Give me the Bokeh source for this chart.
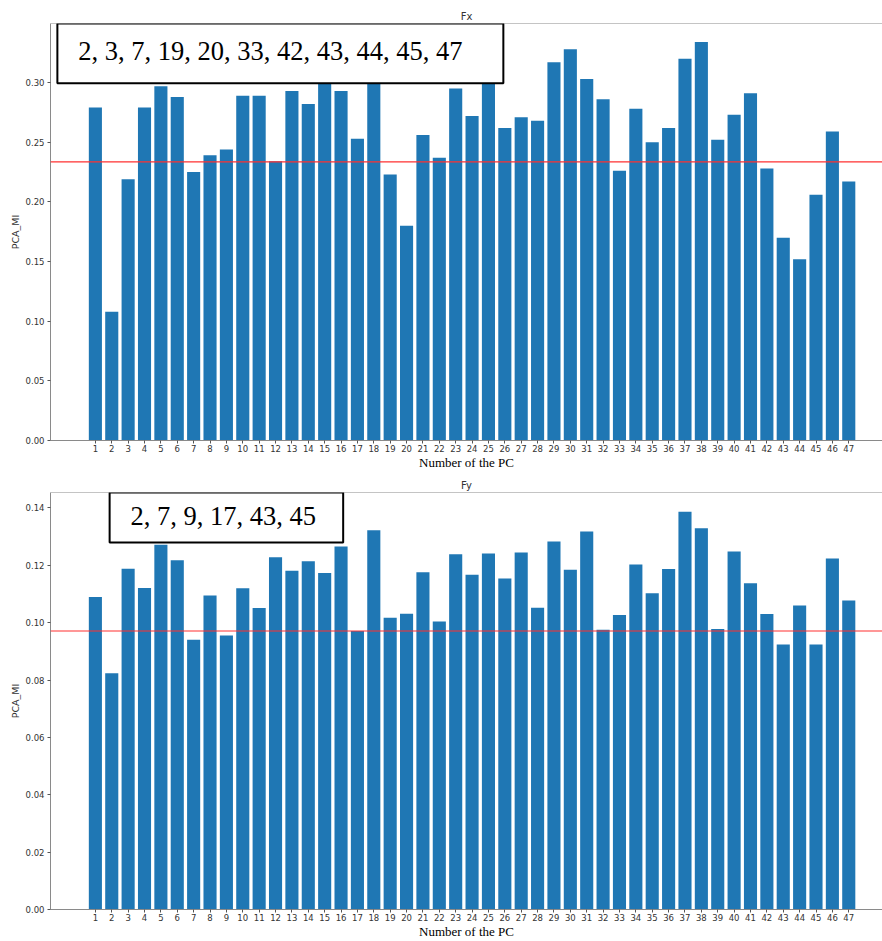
from bokeh.plotting import figure
from bokeh.layouts import column
from bokeh.models import (Range1d, FixedTicker, NumeralTickFormatter, Span,
                          BoxAnnotation, Label, ColumnDataSource)
from bokeh.embed import file_html
from bokeh.resources import INLINE

pc_numbers = list(range(1, 48))
fx_values = [0.279, 0.108, 0.219, 0.279, 0.297, 0.288, 0.225, 0.239, 0.244, 0.289,
             0.289, 0.234, 0.293, 0.282, 0.305, 0.293, 0.253, 0.310, 0.223, 0.180,
             0.256, 0.237, 0.295, 0.272, 0.301, 0.262, 0.271, 0.268, 0.317, 0.328,
             0.303, 0.286, 0.226, 0.278, 0.250, 0.262, 0.320, 0.334, 0.252, 0.273,
             0.291, 0.228, 0.170, 0.152, 0.206, 0.259, 0.217]
fy_values = [0.1090, 0.0824, 0.1188, 0.1121, 0.1272, 0.1218, 0.0941, 0.1095, 0.0955, 0.1120,
             0.1051, 0.1228, 0.1181, 0.1214, 0.1173, 0.1266, 0.0971, 0.1322, 0.1017, 0.1031,
             0.1176, 0.1004, 0.1239, 0.1167, 0.1241, 0.1154, 0.1245, 0.1052, 0.1283, 0.1185,
             0.1318, 0.0975, 0.1027, 0.1203, 0.1103, 0.1187, 0.1387, 0.1329, 0.0978, 0.1248,
             0.1138, 0.1030, 0.0924, 0.1060, 0.0924, 0.1224, 0.1077]
fx_threshold = 0.2335
fy_threshold = 0.0971
fx_note = "2, 3, 7, 19, 20, 33, 42, 43, 44, 45, 47"
fy_note = "2, 7, 9, 17, 43, 45"
fx_ticks = [0.00, 0.05, 0.10, 0.15, 0.20, 0.25, 0.30]
fy_ticks = [0.00, 0.02, 0.04, 0.06, 0.08, 0.10, 0.12, 0.14]

BAR = "#1f77b4"
SPINE = "#8a8a8a"


def make_panel(title, values, threshold, y_end, yticks, height, top_border,
               note, note_x, note_y, box_l, box_r, box_b, box_t):
    p = figure(width=882, height=height, output_backend="svg", toolbar_location=None,
               x_range=Range1d(-1.74, 49.06), y_range=Range1d(0, y_end),
               min_border_left=50, min_border_right=0, min_border_top=top_border,
               min_border_bottom=26, title=title)
    p.title.align = "center"
    p.title.text_font = "DejaVu Sans"
    p.title.text_font_size = "10px"
    p.title.text_font_style = "normal"
    p.title.text_color = "#333333"
    p.title.standoff = 3
    p.title.offset = 5

    src = ColumnDataSource(dict(x=pc_numbers, top=values))
    p.vbar(x="x", top="top", width=0.8, bottom=0, source=src,
           fill_color=BAR, line_color=None)

    p.add_layout(Span(location=threshold, dimension="width",
                      line_color="#ff3030", line_width=1.2))
    p.add_layout(Span(location=y_end, dimension="width",
                      line_color=SPINE, line_width=1))

    p.add_layout(BoxAnnotation(left=box_l, right=box_r, bottom=box_b, top=box_t,
                               fill_color="white", fill_alpha=1.0,
                               line_color="black", line_alpha=1.0, line_width=2))
    p.add_layout(Label(x=note_x, y=note_y, text=note, text_font="Liberation Serif",
                       text_font_size="26.5px", text_color="black",
                       text_baseline="middle", text_align="left"))

    p.xgrid.visible = False
    p.ygrid.visible = False
    p.outline_line_color = None

    p.xaxis.ticker = FixedTicker(ticks=pc_numbers)
    p.yaxis.ticker = FixedTicker(ticks=yticks)
    p.yaxis.formatter = NumeralTickFormatter(format="0.00")
    for ax in (p.xaxis[0], p.yaxis[0]):
        ax.axis_line_color = SPINE
        ax.major_tick_line_color = "#555555"
        ax.major_tick_out = 3
        ax.major_tick_in = 0
        ax.minor_tick_line_color = None
        ax.major_label_text_font = "DejaVu Sans"
        ax.major_label_text_font_size = "8.5px"
        ax.major_label_text_color = "#333333"
    p.xaxis.major_label_standoff = 1
    p.yaxis.major_label_standoff = 3
    p.xaxis.axis_label = "Number of the PC"
    p.xaxis.axis_label_text_font = "Liberation Serif"
    p.xaxis.axis_label_text_font_size = "13px"
    p.xaxis.axis_label_text_font_style = "normal"
    p.xaxis.axis_label_text_color = "black"
    p.xaxis.axis_label_standoff = 0
    p.yaxis.axis_label = "PCA_MI"
    p.yaxis.axis_label_text_font = "DejaVu Sans"
    p.yaxis.axis_label_text_font_size = "9.5px"
    p.yaxis.axis_label_text_font_style = "normal"
    p.yaxis.axis_label_text_color = "#333333"
    p.yaxis.axis_label_standoff = 2
    p.background_fill_color = "white"
    p.border_fill_color = "white"
    return p


p1 = make_panel("Fx", fx_values, fx_threshold, 0.3495, fx_ticks, 472, 23,
                fx_note, -0.04, 0.3265, -1.32, 25.91, 0.2994, 0.3495)
p2 = make_panel("Fy", fy_values, fy_threshold, 0.1454, fy_ticks, 469, 20,
                fy_note, 3.14, 0.1372, 1.87, 16.13, 0.1280, 0.1454)

p = column(p1, p2, spacing=0)
open("out.html", "w").write(file_html(p, INLINE))
